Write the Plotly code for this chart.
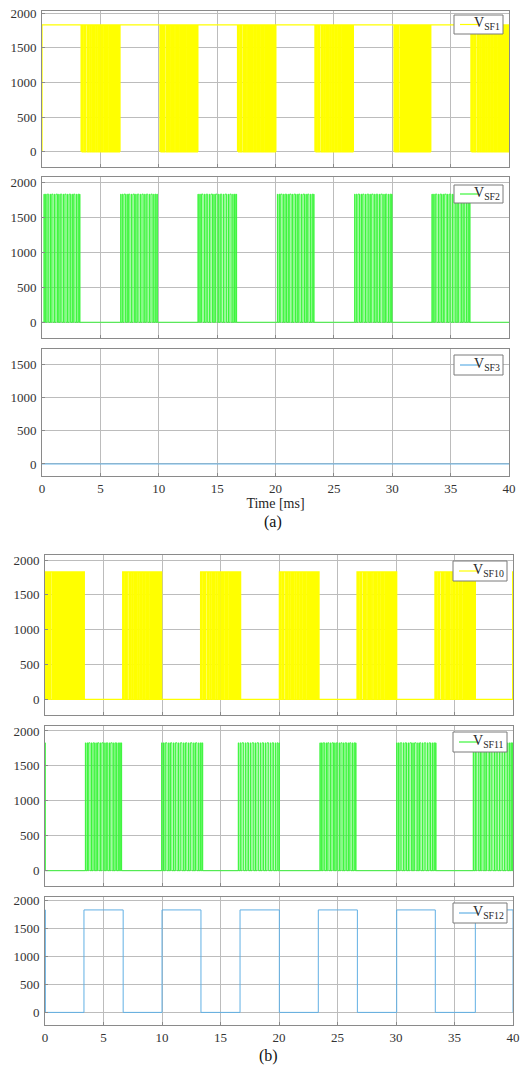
import plotly.graph_objects as go

# ---------------- data ----------------
T_END_MS = 40.0
V_HIGH = 1830.0

# PWM block intervals [ms] for every switch-voltage trace
BLOCKS_SF1 = [(3.35, 6.68), (10.10, 13.35), (16.75, 20.03), (23.38, 26.67), (30.15, 33.30), (36.74, 40.0)]
BLOCKS_SF2 = [(0.17, 3.25), (6.74, 9.88), (13.36, 16.67), (20.16, 23.30), (26.78, 29.98), (33.40, 36.66)]
BLOCKS_SF10 = [(0.14, 3.36), (6.64, 9.97), (13.30, 16.72), (20.03, 23.42), (26.67, 30.06), (33.33, 36.78)]
BLOCKS_SF11 = [(3.45, 6.55), (9.97, 13.48), (16.52, 20.03), (23.50, 26.58), (30.06, 33.42), (36.60, 40.0)]
# VSF12: plain square wave (high intervals)
HIGH_SF12 = [(0.0, 0.02), (3.33, 6.68), (10.00, 13.33), (16.67, 20.03), (23.36, 26.70), (30.06, 33.36), (36.78, 40.0)]
# single extra on-pulses outside the blocks
EXTRA_SF10 = [(0.0, 0.03), (39.97, 40.0)]
EXTRA_SF11 = [(0.0, 0.02)]

# pulse on-intervals inside a block, as fractions of the block length
PULSES_DENSE = [(0.000, 0.030), (0.040, 0.075), (0.085, 0.110), (0.118, 0.160), (0.170, 0.200),
                (0.210, 0.245), (0.255, 0.290), (0.318, 0.350), (0.360, 0.395), (0.405, 0.440),
                (0.450, 0.480), (0.490, 0.525), (0.535, 0.560), (0.570, 0.605), (0.635, 0.665),
                (0.675, 0.710), (0.720, 0.750), (0.760, 0.790), (0.800, 0.830), (0.840, 0.870),
                (0.880, 0.905), (0.915, 0.945), (0.955, 0.975), (0.985, 1.000)]
PULSES_SPARSE = [(0.000, 0.010), (0.045, 0.060), (0.090, 0.130), (0.170, 0.182), (0.215, 0.250),
                 (0.290, 0.300), (0.335, 0.375), (0.410, 0.420), (0.455, 0.495), (0.535, 0.545),
                 (0.580, 0.615), (0.655, 0.665), (0.700, 0.740), (0.780, 0.790), (0.825, 0.860),
                 (0.900, 0.910), (0.945, 0.965), (0.990, 1.000)]

NAMES = ["V<sub>SF1</sub>", "V<sub>SF2</sub>", "V<sub>SF3</sub>",
         "V<sub>SF10</sub>", "V<sub>SF11</sub>", "V<sub>SF12</sub>"]
COLORS = ["#ffff00", "#3cf53c", "#62b0e4", "#ffff00", "#3cf53c", "#62b0e4"]
WIDTHS = [1.3, 1.0, 1.0, 1.3, 1.0, 1.0]
X_TICKS = [0, 5, 10, 15, 20, 25, 30, 35, 40]

# ---------------- layout geometry (pixels in the 529x1067 window) ----------------
WIN_W, WIN_H, OFF = 529, 1067, 8          # page body margin is 8 px
W, H = WIN_W - OFF, WIN_H - OFF
PANELS = [(42, 509, 11, 167), (42, 509, 177, 338), (42, 509, 349, 476),
          (45, 513, 555, 715), (45, 513, 726, 886), (45, 513, 897, 1025)]
YRANGES = [(-220, 2030), (-225, 2075), (-182, 1738), (-225, 2072), (-219, 2071), (-225, 2061)]
# legend boxes: (left, right, top, bottom) in pixels
LEG_BOX = [(454, 503, 15, 34), (454, 503, 185, 203), (454, 503, 355, 375),
           (453, 507, 561, 581), (453, 507, 732, 752), (453, 507, 903, 923)]


def px(x):
    return (x - OFF) / W


def py(y):
    return 1 - (y - OFF) / H


def wave(base, blocks, pattern=(), extra=(), high=()):
    """Step points; base = level outside the blocks."""
    segs = [(a, b, "blk") for a, b in blocks] + [(a, b, "hi") for a, b in list(high) + list(extra)]
    segs.sort()
    t = 0.0
    xs, ys = [0.0], [base if not segs or segs[0][0] > 0 else 0.0]
    for a, b, kind in segs:
        if a > t:
            xs.append(t); ys.append(base)
        if kind == "hi":
            xs += [a, b]; ys += [V_HIGH, base]
        else:
            xs.append(a); ys.append(0.0)
            d = b - a
            for f0, f1 in pattern:
                xs += [a + f0 * d, a + f1 * d]; ys += [V_HIGH, 0.0]
            xs.append(b); ys.append(base)
        t = b
    xs.append(T_END_MS); ys.append(ys[-1])
    return xs, ys


signals = [
    wave(V_HIGH, BLOCKS_SF1, PULSES_DENSE),
    wave(0.0, BLOCKS_SF2, PULSES_SPARSE),
    ([0.0, T_END_MS], [0.0, 0.0]),
    wave(0.0, BLOCKS_SF10, PULSES_DENSE, extra=EXTRA_SF10),
    wave(0.0, BLOCKS_SF11, PULSES_SPARSE, extra=EXTRA_SF11),
    wave(0.0, [], high=HIGH_SF12),
]
# VSF1 rises from 0 at t = 0
signals[0] = ([0.0] + signals[0][0], [0.0] + signals[0][1])

FONT = "Liberation Serif, Times New Roman, serif"
fig = go.Figure()
layout = dict(width=W, height=H, margin=dict(l=0, r=0, t=0, b=0, autoexpand=False),
              paper_bgcolor="white", plot_bgcolor="white", showlegend=False,
              font=dict(family=FONT, size=13, color="#262626"))
shapes, annotations = [], []

for i, (xs, ys) in enumerate(signals):
    k = "" if i == 0 else str(i + 1)
    fig.add_trace(go.Scatter(x=xs, y=ys, mode="lines",
                             line=dict(color=COLORS[i], width=WIDTHS[i], shape="hv"),
                             name=NAMES[i], xaxis="x" + k, yaxis="y" + k, hoverinfo="skip"))
    x0, x1, t0, t1 = PANELS[i]
    show_x = i in (2, 5)
    layout["xaxis" + k] = dict(domain=[px(x0), px(x1)], range=[0, T_END_MS], anchor="y" + k,
                               tickvals=X_TICKS, showticklabels=show_x, showgrid=True,
                               gridcolor="#bcbcbc", gridwidth=1, zeroline=False, automargin=False,
                               showline=True, linecolor="#8a8a8a", linewidth=1, mirror=True,
                               ticks="inside", ticklen=3, tickcolor="#8a8a8a",
                               ticklabeloverflow="allow",
                               tickfont=dict(size=13, family=FONT, color="#333"))
    if i == 2:
        layout["xaxis" + k]["title"] = dict(text="Time [ms]", font=dict(size=14, family=FONT, color="#262626"),
                                            standoff=0)
    yt = [0, 500, 1000, 1500] if i == 2 else [0, 500, 1000, 1500, 2000]
    layout["yaxis" + k] = dict(domain=[py(t1), py(t0)], range=list(YRANGES[i]), anchor="x" + k,
                               tickvals=yt, showgrid=True, gridcolor="#bcbcbc", gridwidth=1,
                               zeroline=False, showline=True, linecolor="#8a8a8a", linewidth=1,
                               mirror=True, ticks="inside", ticklen=3, tickcolor="#8a8a8a",
                               automargin=False, ticklabelstandoff=2, ticklabeloverflow="allow",
                               tickfont=dict(size=13, family=FONT, color="#333"))
    # legend box drawn as shapes + text
    l, r, tp, bt = LEG_BOX[i]
    ym = (tp + bt) / 2
    shapes.append(dict(type="rect", xref="paper", yref="paper", x0=px(l), x1=px(r),
                       y0=py(bt), y1=py(tp), fillcolor="white",
                       line=dict(color="#7a7a7a", width=1), layer="above"))
    shapes.append(dict(type="line", xref="paper", yref="paper", x0=px(l + 6), x1=px(l + 24),
                       y0=py(ym), y1=py(ym), line=dict(color=COLORS[i], width=1.2), layer="above"))
    annotations.append(dict(text=NAMES[i], xref="paper", yref="paper", x=px(r - 1), y=py(ym - 1),
                            xanchor="right", yanchor="middle", showarrow=False,
                            font=dict(size=14, family=FONT, color="#262626")))

annotations.append(dict(text="(a)", x=px(273), y=py(522), xref="paper", yref="paper",
                        xanchor="center", yanchor="middle",
                        showarrow=False, font=dict(size=16, family=FONT, color="#111")))
annotations.append(dict(text="(b)", x=px(268), y=py(1056), xref="paper", yref="paper",
                        xanchor="center", yanchor="middle",
                        showarrow=False, font=dict(size=16, family=FONT, color="#111")))
layout["shapes"] = shapes
layout["annotations"] = annotations
fig.update_layout(**layout)
fig.write_html("out.html")
